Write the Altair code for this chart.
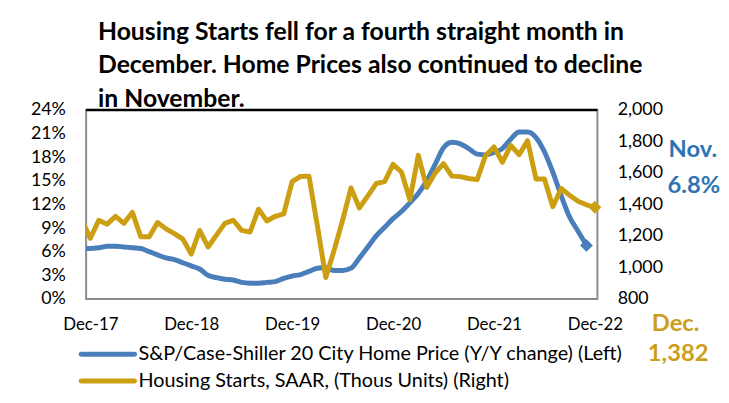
import altair as alt
import pandas as pd

# ---- data (month index: 0 = Dec-17, -1 = Nov-17) ----
month_index = list(range(-1, 61))
tick_months = [0, 12, 24, 36, 48, 60]
tick_labels = ["Dec-17", "Dec-18", "Dec-19", "Dec-20", "Dec-21", "Dec-22"]

# S&P/Case-Shiller 20 City Y/Y %, Nov-17 .. Nov-22
home_price_yy = [
    6.4, 6.4,
    6.5, 6.7, 6.7, 6.6, 6.5, 6.4, 6.0, 5.6, 5.2, 5.0, 4.6, 4.2,
    3.8, 3.0, 2.7, 2.5, 2.4, 2.1, 2.0, 2.0, 2.1, 2.2, 2.6, 2.9,
    3.1, 3.5, 3.9, 4.0, 3.6, 3.6, 3.9, 5.2, 6.6, 8.0, 9.1, 10.2,
    11.1, 12.2, 13.4, 15.0, 17.1, 19.2, 19.9, 19.7, 19.1, 18.4, 18.3, 18.6,
    19.1, 20.3, 21.2, 21.2, 20.5, 18.7, 16.1, 13.1, 10.4, 8.6, 6.8,
]
# Housing starts SAAR (thous), Nov-17 .. Dec-22
housing_starts = [
    1300, 1185,
    1300, 1275, 1325, 1280, 1350, 1195, 1195, 1285, 1245, 1215, 1180, 1085,
    1235, 1130, 1205, 1280, 1300, 1235, 1225, 1370, 1295, 1325, 1340, 1545,
    1578, 1580, 1265, 936, 1110, 1300, 1505, 1378, 1455, 1533, 1545, 1655,
    1606, 1430, 1712, 1508, 1600, 1659, 1580, 1577, 1565, 1558, 1710, 1766,
    1668, 1775, 1716, 1805, 1562, 1562, 1386, 1502, 1458, 1420, 1398, 1382,
]
series_names = [
    "S&P/Case-Shiller 20 City Home Price (Y/Y change) (Left)",
    "Housing Starts, SAAR, (Thous Units) (Right)",
]
title_lines = [
    "Housing Starts fell for a fourth straight month in",
    "December. Home Prices also continued to decline",
    "in November.",
]
left_ticks = list(range(0, 25, 3))
right_ticks = list(range(800, 2001, 200))

BLUE = "#4A7EBB"
GOLD = "#CC9E12"
BLUE_TXT = "#2E74B5"
GOLD_TXT = "#CC9E1A"
FONT = "Lato"
AXX = 17
AXY = 18

W, H = 517, 191

hp = pd.DataFrame({"t": month_index[: len(home_price_yy)], "v": home_price_yy})
hs = pd.DataFrame({"t": month_index[: len(housing_starts)], "hs": housing_starts})
hp_last = int(hp["t"].iloc[-1])
hs_last = int(hs["t"].iloc[-1])

label_expr = "[" + ",".join("'%s'" % s for s in tick_labels) + "][round(datum.value/12)]"
xenc = alt.X(
    "t:Q",
    scale=alt.Scale(domain=[-0.5, 60.3], nice=False, zero=False),
    axis=alt.Axis(values=tick_months, labelExpr=label_expr, ticks=False, domain=False,
                  grid=False, title=None, labelFontSize=AXX, labelFont=FONT,
                  labelColor="black", labelPadding=18),
)

left_y = alt.Y(
    "v:Q", scale=alt.Scale(domain=[0, 24], nice=False, zero=False),
    axis=alt.Axis(values=left_ticks, labelExpr="datum.value + '%'", ticks=False,
                  domain=False, grid=False, title=None, labelFontSize=AXY,
                  labelFont=FONT, labelColor="black", labelPadding=21),
)
right_y = alt.Y(
    "hs:Q", scale=alt.Scale(domain=[800, 2000], nice=False, zero=False),
    axis=alt.Axis(orient="right", values=right_ticks,
                  labelExpr="format(datum.value, ',')", ticks=False,
                  domain=False, grid=False, title=None, labelFontSize=AXY,
                  labelFont=FONT, labelColor="black", labelPadding=20),
)

hp_base = alt.Chart(hp).encode(x=xenc, y=left_y)
hp_line = hp_base.mark_line(color=BLUE, strokeWidth=5, interpolate="monotone",
                            clip=True, strokeCap="round")
hp_end = hp_base.mark_point(shape="diamond", filled=True, color=BLUE, size=170,
                            opacity=1).transform_filter(alt.datum.t == hp_last)

hs_base = alt.Chart(hs).encode(x=xenc, y=right_y)
hs_line = hs_base.mark_line(color=GOLD, strokeWidth=5, clip=True,
                            strokeJoin="round", strokeCap="round")
hs_end = hs_base.mark_point(shape="diamond", filled=True, color=GOLD, size=170,
                            opacity=1).transform_filter(alt.datum.t == hs_last)

left = alt.layer(hp_line, hp_end)
right = alt.layer(hs_line, hs_end)

# top border of plot area
top_rule = alt.Chart(pd.DataFrame({"a": [0]})).mark_rule(color="black", strokeWidth=2.5).encode(
    x=alt.value(0), x2=alt.value(W), y=alt.value(0)
)

# title (three lines, left aligned above the plot)
ttl = pd.DataFrame({"line": title_lines, "i": list(range(len(title_lines)))})
title_layer = alt.Chart(ttl).mark_text(
    align="left", baseline="alphabetic", fontSize=25, font=FONT,
    fontWeight="bold", color="black"
).encode(
    x=alt.value(12),
    y=alt.Y("i:Q", scale=alt.Scale(domain=[0, 2], range=[-71, -3]), axis=None),
    text="line:N",
)

# legend (below plot)
leg = pd.DataFrame({"name": series_names, "row": [0, 1], "color": [BLUE, GOLD]})
leg_y = alt.Y("row:Q", scale=alt.Scale(domain=[0, 1], range=[247, 274]), axis=None)
leg_rule = alt.Chart(leg).mark_rule(strokeWidth=5, strokeCap="round").encode(
    x=alt.value(-5), x2=alt.value(49), y=leg_y, color=alt.Color("color:N", scale=None)
)
leg_text = alt.Chart(leg).mark_text(align="left", baseline="middle", fontSize=20,
                                    font=FONT, color="black").encode(
    x=alt.value(53), y=leg_y, text="name:N"
)
legend = alt.layer(leg_rule, leg_text)


def ann(txt, x, y, color):
    return alt.Chart(pd.DataFrame({"label": [txt]})).mark_text(
        align="left", baseline="alphabetic", fontSize=24, font=FONT,
        fontWeight="bold", color=color
    ).encode(x=alt.value(x), y=alt.value(y), text="label:N")


ann_layers = alt.layer(
    ann("Nov.", 589, 48, BLUE_TXT),
    ann(f"{home_price_yy[-1]:.1f}%", 588, 84, BLUE_TXT),
    ann("Dec.", 572, 223, GOLD_TXT),
    ann(f"{housing_starts[-1]:,}", 568, 254, GOLD_TXT),
)

chart = alt.layer(left, right, top_rule, title_layer, legend, ann_layers).resolve_scale(
    y="independent"
).properties(
    width=W, height=H,
    padding={"left": 79, "top": 101, "right": 125, "bottom": 95},
    autosize=alt.AutoSizeParams(type="none"),
    background="white",
).configure_view(stroke="#8c8c8c", strokeWidth=2)

chart.save("out.html", embed_options={"renderer": "svg", "actions": False})
